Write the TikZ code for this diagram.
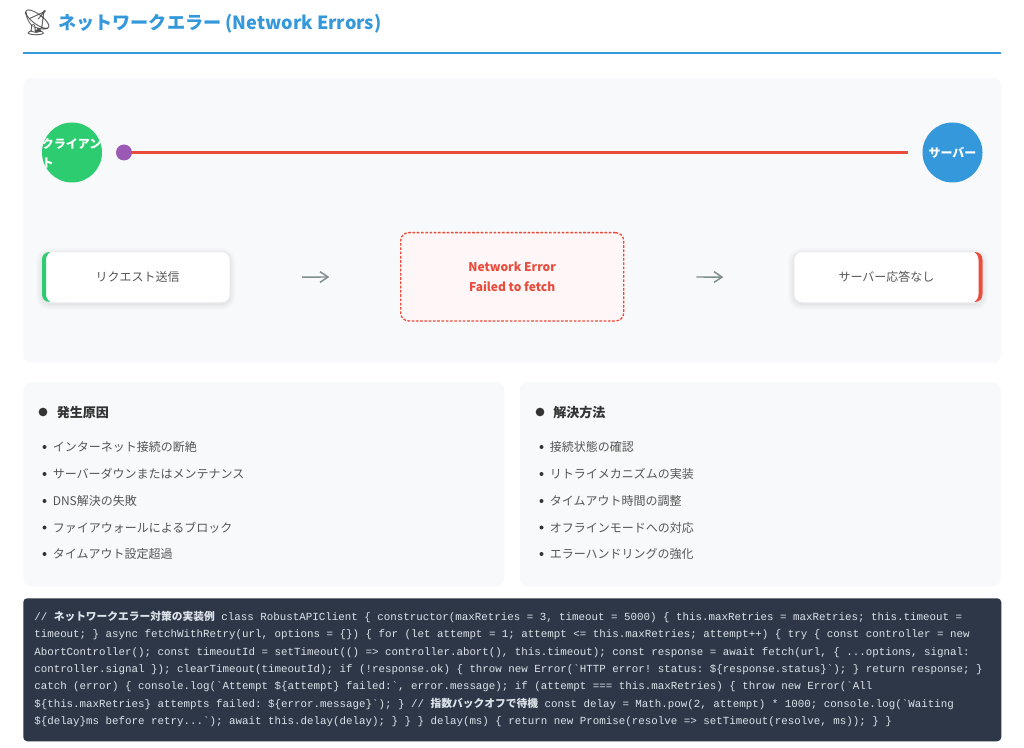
\documentclass[tikz,border=0pt]{standalone}
\usepackage{fontspec}
\usetikzlibrary{arrows.meta}
\setmainfont{Noto Sans CJK JP}
\newfontfamily\jp{Noto Sans CJK JP}
\newfontfamily\codefont{Liberation Mono}
\newfontfamily\emojifont{Noto Emoji}
\definecolor{blueT}{HTML}{3498DB}
\definecolor{panel}{HTML}{F8F9FA}
\definecolor{greenC}{HTML}{2ECC71}
\definecolor{redC}{HTML}{E74C3C}
\definecolor{purpleC}{HTML}{9B59B6}
\definecolor{darkbg}{HTML}{2D3748}
\definecolor{codetx}{HTML}{DDE3EA}
\definecolor{txt}{HTML}{555555}
\definecolor{head}{HTML}{333333}
\definecolor{arrowc}{HTML}{7F8C8D}
\newcommand{\cj}[1]{{\jp\bfseries\fontsize{8.06}{13}\selectfont #1}}
\tikzset{
  x=0.75pt,y=-0.75pt,
  panelbox/.style={anchor=north west,inner sep=0pt,fill=panel,rounded corners=6pt},
  circ/.style={circle,inner sep=0pt,minimum size=45pt},
  stepcard/.style={anchor=north west,inner sep=0pt,fill=white,rounded corners=6pt,minimum height=37.5pt},
  shade1/.style={fill=black,fill opacity=0.012,draw=none},
  listitem/.style={anchor=base west,inner sep=0pt,text=txt,font=\fontsize{9}{12}\selectfont},
  headitem/.style={anchor=base west,inner sep=0pt,text=head,font=\fontsize{9.8}{13}\selectfont\bfseries},
  bigdot/.style={circle,inner sep=0pt,fill=head,minimum size=6.5pt},
  smalldot/.style={circle,inner sep=0pt,fill=head,minimum size=3pt},
  flow/.style={draw=arrowc,line width=1.1pt,-{Straight Barb[length=6pt,width=8pt]}},
}
\begin{document}
\begin{tikzpicture}
\useasboundingbox[fill=white] (0,0) rectangle (1024,748);
% title
\node[anchor=base west,inner sep=0pt,text=head!85] (emoji) at (21,32) {\emojifont\fontsize{19}{20}\selectfont\bfseries 📡};
\node[anchor=base west,inner sep=0pt,text=blueT,font=\fontsize{13.6}{16}\selectfont\bfseries] (title) at (58,30) {ネットワークエラー (Network Errors)};
\coordinate (ruleL) at (23,53);
\coordinate (ruleR) at (1001,53);
\draw[blueT,line width=2pt] (ruleL) -- (ruleR);
% main panel
\node[panelbox,minimum width=733.5pt,minimum height=213.75pt] (main) at (23,77.5) {};
\node[circ,fill=greenC] (client) at (72,152.5) {};
\node[anchor=north west,inner sep=0pt,text=white,font=\fontsize{9}{14.2}\selectfont\bfseries,align=left] (clientlabel) at (41.5,138) {クライアン\\ト};
\node[circ,fill=blueT,text=white,font=\fontsize{9}{12}\selectfont\bfseries] (server) at (952.5,152.5) {サーバー};
\coordinate (cut) at (908,152.5);
\node[circle,inner sep=0pt,minimum size=12pt,fill=purpleC] (packet) at (124,152.5) {};
\draw[redC,line width=2.4pt] (packet.east) -- (cut);
% cards
\foreach \i in {1,...,6}{
  \fill[shade1,rounded corners=6pt+\i*0.75pt] (42-\i,252-\i+2) rectangle (229.5+\i,302+\i+2);
  \fill[shade1,rounded corners=6pt+\i*0.75pt] (794-\i,252-\i+2) rectangle (982.5+\i,302+\i+2);
}
\node[stepcard,minimum width=140.6pt] (req) at (42,252) {};
\fill[greenC] (50,252) .. controls (45,252) and (42,255) .. (42,260) -- (42,294) .. controls (42,299) and (45,302) .. (50,302) .. controls (47.5,300) and (46,298) .. (46,294) -- (46,260) .. controls (46,256) and (47.5,254) .. (50,252) -- cycle;
\node[text=txt,inner sep=0pt,font=\fontsize{9}{12}\selectfont] (reqlabel) at (137.5,277) {リクエスト送信};
\node[stepcard,minimum width=141.4pt] (res) at (794,252) {};
\fill[redC] (974.5,252) .. controls (979.5,252) and (982.5,255) .. (982.5,260) -- (982.5,294) .. controls (982.5,299) and (979.5,302) .. (974.5,302) .. controls (977,300) and (978.5,298) .. (978.5,294) -- (978.5,260) .. controls (978.5,256) and (977,254) .. (974.5,252) -- cycle;
\node[text=txt,inner sep=0pt,font=\fontsize{9}{12}\selectfont] (reslabel) at (886.5,277) {サーバー応答なし};
\node[anchor=north west,inner sep=0pt,minimum width=167.25pt,minimum height=66.2pt,fill=red!3!white,draw=redC,line width=1pt,dash pattern=on 2pt off 1.2pt,rounded corners=6pt,text=redC,align=center,font=\fontsize{9}{14.5}\selectfont\bfseries] (err) at (400,232) {Network Error\\Failed to fetch};
\draw[flow,shorten <=54pt,shorten >=53pt] (req.east) -- (err.west);
\draw[flow,shorten <=54pt,shorten >=53pt] (err.east) -- (res.west);
% lower panels
\node[panelbox,minimum width=360.75pt,minimum height=153pt] (causes) at (23,382) {};
\node[panelbox,minimum width=360.75pt,minimum height=153pt] (fixes) at (519.5,382) {};
\node[bigdot] (d1) at (43,412) {};
\node[headitem] (h1) at (56.5,417.2) {発生原因};
\node[bigdot] (d2) at (540,412) {};
\node[headitem] (h2) at (553,417.2) {解決方法};
\foreach \y/\t [count=\n] in {451.5/インターネット接続の断絶,478.5/サーバーダウンまたはメンテナンス,505.5/DNS解決の失敗,532/ファイアウォールによるブロック,558.5/タイムアウト設定超過}{
  \node[smalldot] (la\n) at (44.5,\y-4.5) {};
  \node[listitem] (lt\n) at (52.5,\y) {\t};
}
\foreach \y/\t [count=\n] in {451.5/接続状態の確認,478.5/リトライメカニズムの実装,505.5/タイムアウト時間の調整,532/オフラインモードへの対応,558.5/エラーハンドリングの強化}{
  \node[smalldot] (ra\n) at (541.5,\y-4.5) {};
  \node[listitem] (rt\n) at (549.5,\y) {\t};
}
% code
\node[anchor=north west,inner sep=0pt,fill=darkbg,rounded corners=3pt,minimum width=733.5pt,minimum height=107.25pt] (codebg) at (23,598) {};
\node[anchor=north west,inner sep=0pt,text=codetx,align=left,font=\codefont\frenchspacing\fontsize{8.12}{13}\selectfont] (code) at (34,610.8) {%
// \cj{ネットワークエラー対策の実装例} class RobustAPIClient \{ constructor(maxRetries = 3, timeout = 5000) \{ this.maxRetries = maxRetries; this.timeout =\\
timeout; \} async fetchWithRetry(url, options = \{\}) \{ for (let attempt = 1; attempt <= this.maxRetries; attempt++) \{ try \{ const controller = new\\
AbortController(); const timeoutId = setTimeout(() => controller.abort(), this.timeout); const response = await fetch(url, \{ ...options, signal:\\
controller.signal \}); clearTimeout(timeoutId); if (!response.ok) \{ throw new Error(`HTTP error! status: \$\{response.status\}`); \} return response; \}\\
catch (error) \{ console.log(`Attempt \$\{attempt\} failed:`, error.message); if (attempt === this.maxRetries) \{ throw new Error(`All\\
\$\{this.maxRetries\} attempts failed: \$\{error.message\}`); \} // \cj{指数バックオフで待機} const delay = Math.pow(2, attempt) * 1000; console.log(`Waiting\\
\$\{delay\}ms before retry...`); await this.delay(delay); \} \} \} delay(ms) \{ return new Promise(resolve => setTimeout(resolve, ms)); \} \}};
\end{tikzpicture}
\end{document}
